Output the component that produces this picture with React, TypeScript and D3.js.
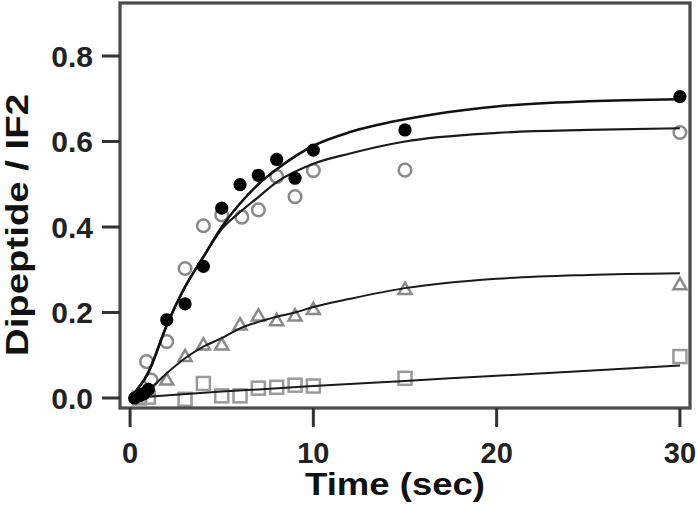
import React from "react";
import * as d3 from "d3";

// ---- data ----
const xTicks = [0, 10, 20, 30];
const yTicks = [0.0, 0.2, 0.4, 0.6, 0.8];

// filled circles
const filledT = [0.25, 0.5, 0.75, 1, 2, 3, 4, 5, 6, 7, 8, 9, 10, 15, 30];
const filledV = [0.0, 0.005, 0.01, 0.02, 0.183, 0.22, 0.308, 0.444, 0.499, 0.521, 0.558, 0.514, 0.58, 0.627, 0.705];

// open circles
const openT = [0.9, 1.15, 2, 3, 4, 5, 6.1, 7, 8, 9, 10, 15, 30];
const openV = [0.085, 0.042, 0.132, 0.303, 0.403, 0.428, 0.423, 0.44, 0.518, 0.471, 0.532, 0.533, 0.621];

// triangles
const triT = [0.5, 1, 2, 3, 4, 5, 6, 7, 8, 9, 10, 15, 30];
const triV = [0.005, 0.015, 0.042, 0.097, 0.124, 0.124, 0.171, 0.192, 0.181, 0.192, 0.207, 0.254, 0.265];

// squares
const sqT = [0.5, 1, 3, 4, 5, 6, 7, 8, 9, 10, 15, 30];
const sqV = [0.0, 0.002, -0.003, 0.034, 0.005, 0.005, 0.023, 0.025, 0.03, 0.028, 0.046, 0.097];

// fitted curves
const fitFilledT = [0, 1, 2, 3, 4, 5, 6, 7, 8, 10, 12, 15, 20, 25, 30];
const fitFilledV = [0, 0.06, 0.17, 0.26, 0.33, 0.4, 0.455, 0.5, 0.535, 0.59, 0.622, 0.652, 0.682, 0.694, 0.699];
const fitOpenT = [0, 1, 2, 3, 4, 5, 6, 7, 8, 10, 12, 15, 20, 25, 30];
const fitOpenV = [0, 0.06, 0.17, 0.26, 0.33, 0.395, 0.435, 0.47, 0.505, 0.548, 0.572, 0.6, 0.62, 0.627, 0.631];
const fitTriT = [0, 1, 2, 3, 4, 5, 6, 7, 8, 9, 10, 12, 15, 20, 25, 30];
const fitTriV = [0, 0.019, 0.058, 0.093, 0.12, 0.14, 0.163, 0.178, 0.19, 0.2, 0.213, 0.232, 0.257, 0.279, 0.288, 0.292];
const fitSqT = [0, 5, 10, 15, 20, 25, 30];
const fitSqV = [0, 0.015, 0.028, 0.04, 0.052, 0.064, 0.076];

const xLabel = "Time (sec)";
const yLabel = "Dipeptide / IF2";

export default function App() {
  const W = 697, H = 510;
  const left = 120, right = 690, top = 3, bottom = 408;
  const x = d3.scaleLinear().domain([-0.55, 30.55]).range([left, right]);
  const y = d3.scaleLinear().domain([-0.0234, 0.924]).range([bottom, top]);
  const font = "'Liberation Sans', Arial, Helvetica, sans-serif";

  const line = d3
    .line<[number, number]>()
    .x((d) => x(d[0]))
    .y((d) => y(d[1]))
    .curve(d3.curveMonotoneX);
  const zip = (a: number[], b: number[]) => a.map((t, i) => [t, b[i]] as [number, number]);

  const gray = "#8a8a8a";
  const tri = (cx: number, cy: number, s: number) => {
    const h = s * 0.866;
    return `M${cx},${cy - h * 0.6}L${cx + s / 2},${cy + h * 0.4}L${cx - s / 2},${cy + h * 0.4}Z`;
  };

  return (
    <svg width={W} height={H} style={{ position: "absolute", left: 0, top: 0, background: "#fff" }}>
      <rect x={0} y={0} width={W} height={H} fill="#fff" />
      {/* open markers */}
      {sqT.map((t, i) => (
        <rect key={"s" + i} x={x(t) - 6.5} y={y(sqV[i]) - 6.5} width={13} height={13} fill="none" stroke="#9a9a9a" strokeWidth={2.5} />
      ))}
      {triT.map((t, i) => (
        <path key={"t" + i} d={tri(x(t), y(triV[i]), 13)} fill="none" stroke={gray} strokeWidth={2.5} />
      ))}
      {openT.map((t, i) => (
        <circle key={"o" + i} cx={x(t)} cy={y(openV[i])} r={6.3} fill="none" stroke={gray} strokeWidth={2.5} />
      ))}
      {/* fitted curves */}
      <path d={line(zip(fitSqT, fitSqV)) || ""} fill="none" stroke="#1a1a1a" strokeWidth={2} />
      <path d={line(zip(fitTriT, fitTriV)) || ""} fill="none" stroke="#1a1a1a" strokeWidth={2} />
      <path d={line(zip(fitOpenT, fitOpenV)) || ""} fill="none" stroke="#1a1a1a" strokeWidth={2.2} />
      <path d={line(zip(fitFilledT, fitFilledV)) || ""} fill="none" stroke="#111" strokeWidth={2.6} />
      {/* filled circles */}
      {filledT.map((t, i) => (
        <circle key={"f" + i} cx={x(t)} cy={y(filledV[i])} r={6.6} fill="#000" />
      ))}
      {/* frame */}
      <rect x={left} y={top} width={right - left} height={bottom - top} fill="none" stroke="#4a4a4a" strokeWidth={3.2} />
      {/* y ticks */}
      {yTicks.map((v) => (
        <g key={"yt" + v}>
          <line x1={left - 18} x2={left} y1={y(v)} y2={y(v)} stroke="#333" strokeWidth={3} />
          <text x={93} y={y(v)} dy="0.36em" textAnchor="end" fontFamily={font} fontWeight="bold" fontSize={30} fill="#222">
            {v.toFixed(1)}
          </text>
        </g>
      ))}
      {/* x ticks */}
      {xTicks.map((t) => (
        <g key={"xt" + t}>
          <line x1={x(t)} x2={x(t)} y1={bottom} y2={bottom + 19} stroke="#333" strokeWidth={3} />
          <text x={x(t)} y={463} textAnchor="middle" fontFamily={font} fontWeight="bold" fontSize={29} fill="#222">
            {t}
          </text>
        </g>
      ))}
      <text x={395} y={495} textAnchor="middle" fontFamily={font} fontWeight="bold" fontSize={31} textLength={180} lengthAdjust="spacingAndGlyphs" fill="#111">
        {xLabel}
      </text>
      <text transform={`translate(28,225) rotate(-90)`} textAnchor="middle" fontFamily={font} fontWeight="bold" fontSize={32} textLength={262} lengthAdjust="spacingAndGlyphs" fill="#111">
        {yLabel}
      </text>
    </svg>
  );
}
